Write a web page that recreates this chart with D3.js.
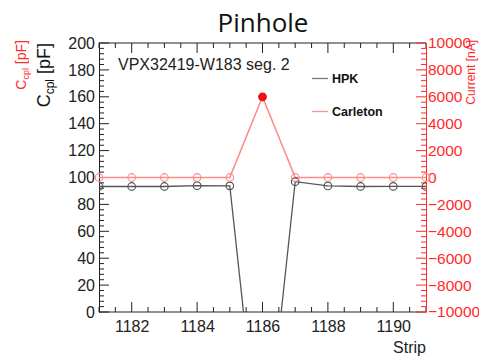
<!DOCTYPE html>
<html><head><meta charset="utf-8">
<script src="https://cdn.jsdelivr.net/npm/d3@7"></script>
<style>body{margin:0;background:#fff}svg{display:block}text{font-family:"Liberation Sans",Arial,sans-serif}</style>
</head><body>
<svg id="c" width="479" height="361"></svg>
<script>
const strips = [1181,1182,1183,1184,1185,1186,1187,1188,1189,1190,1191];
const hpk = [93.3,93.3,93.3,93.9,93.8,-130,96.9,93.7,93.3,93.4,93.4];
const carleton = [0,0,0,0,0,6000,0,0,0,0,0];
const xTicks = [1182,1184,1186,1188,1190];
const leftTicks = [0,20,40,60,80,100,120,140,160,180,200];
const rightTicks = [-10000,-8000,-6000,-4000,-2000,0,2000,4000,6000,8000,10000];

const svg = d3.select("#c");
const L=99,R=426,T=43,B=312;
const x = d3.scaleLinear().domain([1181,1191]).range([L,R]);
const y = d3.scaleLinear().domain([0,200]).range([B,T]);
const y2 = d3.scaleLinear().domain([-10000,10000]).range([B,T]);
const RED="#ff2a2a";

svg.append("text").attr("x",263).attr("y",32).attr("text-anchor","middle")
  .style("font-family","'Open Sans'").style("font-size","26px").attr("fill","#111").text("Pinhole");

svg.append("defs").append("clipPath").attr("id","clip").append("rect")
  .attr("x",L).attr("y",T).attr("width",R-L).attr("height",B-T);

// frame lines
svg.append("line").attr("x1",L).attr("x2",R).attr("y1",T).attr("y2",T).attr("stroke","#222");
svg.append("line").attr("x1",L).attr("x2",R).attr("y1",B).attr("y2",B).attr("stroke","#222");

// bottom axis
const gx = svg.append("g").attr("transform",`translate(0,${B})`)
  .call(d3.axisBottom(x).tickValues(xTicks).tickSize(0).tickPadding(9).tickFormat(d3.format("d")));
gx.select(".domain").remove();
gx.selectAll("text").style("font-size","16px").attr("fill","#222");
const xMinor = d3.range(1181,1191.01,0.5);
svg.append("g").selectAll("line").data(xMinor).join("line")
  .attr("x1",d=>x(d)).attr("x2",d=>x(d)).attr("y1",B).attr("y2",d=>B-(d%2===0?10:5)).attr("stroke","#222");
svg.append("g").selectAll("line").data(xMinor).join("line")
  .attr("x1",d=>x(d)).attr("x2",d=>x(d)).attr("y1",T).attr("y2",d=>T+(d%2===0?10:5)).attr("stroke","#222");

// left axis
const gl = svg.append("g").attr("transform",`translate(${L},0)`)
  .call(d3.axisLeft(y).tickValues(leftTicks).tickSize(0).tickPadding(4));
gl.select(".domain").attr("stroke","#222");
gl.selectAll("text").style("font-size","16px").attr("fill","#222");
svg.append("g").selectAll("line").data(d3.range(0,200.1,4)).join("line")
  .attr("x1",L).attr("x2",d=>L+(d%20===0?10:5)).attr("y1",d=>y(d)).attr("y2",d=>y(d)).attr("stroke","#222");

// right axis
const gr = svg.append("g").attr("transform",`translate(${R},0)`)
  .call(d3.axisRight(y2).tickValues(rightTicks).tickSize(0).tickPadding(2).tickFormat(d3.format("d")));
gr.select(".domain").attr("stroke",RED);
gr.selectAll("text").style("font-size","15.5px").attr("fill",RED);
svg.append("g").selectAll("line").data(d3.range(-10000,10000.1,400)).join("line")
  .attr("x1",R).attr("x2",d=>R-(d%2000===0?10:5)).attr("y1",d=>y2(d)).attr("y2",d=>y2(d)).attr("stroke",RED);

// axis titles
const t1 = svg.append("text").attr("transform",`translate(50,${T}) rotate(-90)`).attr("text-anchor","end")
  .style("font-size","18px").attr("fill","#111");
t1.append("tspan").text("C");
t1.append("tspan").attr("dy",4).style("font-size","12px").text("cpl");
t1.append("tspan").attr("dy",-4).text(" [pF]");
const t2 = svg.append("text").attr("transform",`translate(26,${T-3}) rotate(-90)`).attr("text-anchor","end")
  .style("font-size","14px").attr("fill",RED);
t2.append("tspan").text("C");
t2.append("tspan").attr("dy",3).style("font-size","9px").text("cpl");
t2.append("tspan").attr("dy",-3).text(" [pF]");
svg.append("text").attr("transform",`translate(475,${T-3}) rotate(-90)`).attr("text-anchor","end")
  .style("font-size","12px").attr("fill",RED).text("Current [nA]");
svg.append("text").attr("x",R).attr("y",353).attr("text-anchor","end")
  .style("font-size","16px").attr("fill","#222").text("Strip");

svg.append("text").attr("x",118).attr("y",70).style("font-size","16px").attr("fill","#222").text("VPX32419-W183 seg. 2");

// data
const plot = svg.append("g").attr("clip-path","url(#clip)");
const ptsC = strips.map((s,i)=>[s,carleton[i]]);
const ptsH = strips.map((s,i)=>[s,hpk[i]]);
plot.append("path").datum(ptsH).attr("fill","none").attr("stroke","#555").attr("stroke-width",1.3)
  .attr("d",d3.line().x(d=>x(d[0])).y(d=>y(d[1])));
plot.append("path").datum(ptsC).attr("fill","none").attr("stroke","#ff8a8a").attr("stroke-width",1.6)
  .attr("d",d3.line().x(d=>x(d[0])).y(d=>y2(d[1])));
plot.append("g").selectAll("circle").data(ptsH).join("circle")
  .attr("cx",d=>x(d[0])).attr("cy",d=>y(d[1])).attr("r",3.8).attr("fill","none").attr("stroke","#555").attr("stroke-width",1.2);
svg.append("g").selectAll("circle").data(ptsC).join("circle")
  .attr("cx",d=>x(d[0])).attr("cy",d=>y2(d[1])).attr("r",3.8)
  .attr("fill",d=>d[1]>0?"#ee1111":"none").attr("stroke",d=>d[1]>0?"#ee1111":"#ff8a8a").attr("stroke-width",1.2);

// legend
svg.append("line").attr("x1",312).attr("x2",328).attr("y1",78.5).attr("y2",78.5).attr("stroke","#777").attr("stroke-width",1.3);
svg.append("text").attr("x",332).attr("y",83).style("font-size","12.5px").style("font-weight","bold").attr("fill","#111").text("HPK");
svg.append("line").attr("x1",312).attr("x2",328).attr("y1",111.5).attr("y2",111.5).attr("stroke","#ff9090").attr("stroke-width",1.3);
svg.append("text").attr("x",332).attr("y",116).style("font-size","12.5px").style("font-weight","bold").attr("fill","#111").text("Carleton");
</script>
</body></html>
